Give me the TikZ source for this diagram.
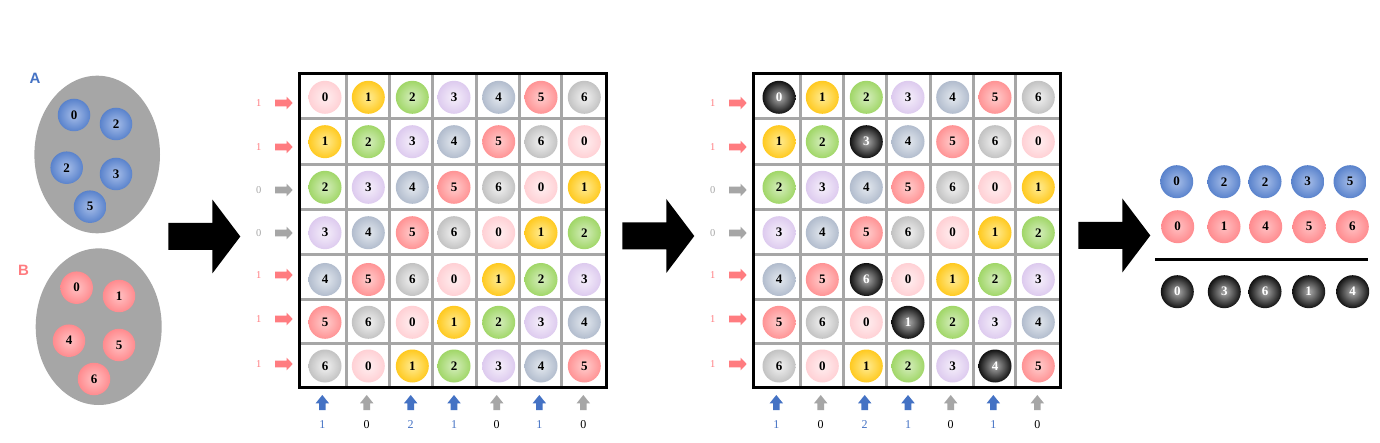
\documentclass[tikz,border=0pt]{standalone}
\usepackage{fontspec}
\setmainfont{Liberation Serif}
\newfontfamily\labfont{Liberation Sans}
\definecolor{c0in}{HTML}{FFEAEC}\definecolor{c0out}{HTML}{FFC8CD}\colorlet{c0txt}{black}
\definecolor{c1in}{HTML}{FFE680}\definecolor{c1out}{HTML}{FFC000}\colorlet{c1txt}{black}
\definecolor{c2in}{HTML}{CDEAB0}\definecolor{c2out}{HTML}{92D050}\colorlet{c2txt}{black}
\definecolor{c3in}{HTML}{F2EAF9}\definecolor{c3out}{HTML}{D6C0EB}\colorlet{c3txt}{black}
\definecolor{c4in}{HTML}{DCE2EA}\definecolor{c4out}{HTML}{A4B0C4}\colorlet{c4txt}{black}
\definecolor{c5in}{HTML}{FFC4C4}\definecolor{c5out}{HTML}{FF8385}\colorlet{c5txt}{black}
\definecolor{c6in}{HTML}{EBEBEB}\definecolor{c6out}{HTML}{B5B5B5}\colorlet{c6txt}{black}
\definecolor{kin}{HTML}{9A9A9A}\definecolor{kout}{HTML}{000000}\colorlet{ktxt}{white}
\definecolor{blin}{HTML}{9AB4E4}\definecolor{blout}{HTML}{4472C4}\colorlet{bltxt}{black}
\definecolor{rdin}{HTML}{FFB8BA}\definecolor{rdout}{HTML}{FF7C80}\colorlet{rdtxt}{black}
\definecolor{arrred}{HTML}{FF7C80}
\definecolor{arrgray}{HTML}{A6A6A6}
\definecolor{arrblue}{HTML}{4472C4}
\definecolor{ellgray}{HTML}{A6A6A6}
\colorlet{rowc1}{arrred}
\colorlet{rowc0}{arrgray}
\colorlet{ballin}{white}\colorlet{ballout}{black}\colorlet{balltxt}{black}
\pgfdeclareradialshading[ballin,ballout]{myball}{\pgfpoint{0bp}{0bp}}{color(0bp)=(ballin); color(4bp)=(ballin); color(32bp)=(ballout); color(50bp)=(ballout)}
\pgfdeclareradialshading{blkball}{\pgfpoint{0bp}{0bp}}{color(0bp)=(kin); color(3bp)=(kin); color(28bp)=(black); color(50bp)=(black)}
\expandafter\def\csname blk00\endcsname{}
\expandafter\def\csname blk12\endcsname{}
\expandafter\def\csname blk42\endcsname{}
\expandafter\def\csname blk53\endcsname{}
\expandafter\def\csname blk65\endcsname{}
\begin{document}
\begin{tikzpicture}[x=1pt,y=-1pt,
  ball/.style={circle, minimum size=33pt, inner sep=0pt,
    /utils/exec={\colorlet{ballin}{#1in}\colorlet{ballout}{#1out}\colorlet{balltxt}{#1txt}},
    shade, shading=myball, text=balltxt, font=\fontsize{13}{13}\selectfont\bfseries},
  blackball/.style={ball=k, shading=blkball},
  gridline/.style={draw=arrgray, line width=3pt},
  border/.style={draw=black, line width=2.6pt},
  rowlab/.style={inner sep=0pt, font=\fontsize{10.5}{10.5}\selectfont},
  collab/.style={inner sep=0pt, font=\fontsize{12}{12}\selectfont},
  setlab/.style={inner sep=0pt, font=\labfont\bfseries\fontsize{15}{15}\selectfont},
  rarr/.pic={\path[pic actions] (0,-3.3) -- (11.5,-3.3) -- (11.5,-6.4) -- (17.7,0) -- (11.5,6.4) -- (11.5,3.3) -- (0,3.3) -- cycle;},
  uarr/.pic={\path[pic actions] (-3.3,15) -- (-3.3,8.3) -- (-6.7,8.3) -- (0,0) -- (6.7,8.3) -- (3.3,8.3) -- (3.3,15) -- cycle;},
  bigarr/.pic={\path[pic actions] (0,-13.5) -- (44,-13.5) -- (44,-37) -- (72,0) -- (44,37) -- (44,13.5) -- (0,13.5) -- cycle;}
]
\useasboundingbox (0,0) rectangle (1380,443);
\fill[white] (0,0) rectangle (1380,443);

% sets A and B
\node[setlab, text=arrblue] (labA) at (35,78.7) {A};
\node[setlab, text=arrred] (labB) at (23.5,270.7) {B};
\fill[ellgray] (97.2,154.5) ellipse [x radius=62.8, y radius=78.8];
\fill[ellgray] (98.7,326.7) ellipse [x radius=63, y radius=78.3];
\foreach \v/\x/\y [count=\i] in {0/74/115,2/116/124,2/66.7/167.7,3/116/174,5/90/206.7}
  \node[ball=bl, minimum size=32.5pt] (a\i) at (\x,\y) {\v};
\foreach \v/\x/\y [count=\i] in {0/76.7/287.7,1/119/296,4/69/340.7,5/119/345,6/94/379}
  \node[ball=rd, minimum size=32.5pt] (b\i) at (\x,\y) {\v};

% big arrows
\pic[fill=black] at (168.3,236.5) {bigarr};
\pic[fill=black] at (622.3,236) {bigarr};
\pic[fill=black] at (1078.3,235.5) {bigarr};

% grids
\foreach \gx in {0,454}{
  \foreach \xx in {346,389,432.3,476,519,561.7}
    \draw[gridline] (\xx+\gx,73.5) -- (\xx+\gx,387.5);
  \foreach \yy in {118.3,164.3,210,255,299.3,343.3}
    \draw[gridline] (299.5+\gx,\yy) -- (606.7+\gx,\yy);
  \draw[border] (299.5+\gx,73.5) rectangle (606.7+\gx,387.5);
}
\foreach \r/\y in {0/97.3,1/141.7,2/187.3,3/232.7,4/279.5,5/322.3,6/366}{
  \foreach \c/\x in {0/325,1/368.3,2/412.3,3/454,4/498.7,5/541,6/584.3}{
    \pgfmathtruncatemacro\v{mod(\r+\c,7)}
    \node[ball=c\v] (ga-\r-\c) at (\x,\y) {\v};
    \ifcsname blk\r\c\endcsname
      \node[blackball] (gb-\r-\c) at (\x+454,\y) {\v};
    \else
      \node[ball=c\v] (gb-\r-\c) at (\x+454,\y) {\v};
    \fi
  }
}

% row indicators
\foreach \r/\y/\s in {0/103/1,1/147/1,2/190/0,3/233/0,4/275/1,5/319/1,6/364/1}{
  \foreach \gx/\g in {0/a,454/b}{
    \node[rowlab, text=rowc\s] (rl\g\r) at (258.7+\gx,\y) {\s};
    \pic[fill=rowc\s] at (275+\gx,\y) {rarr};
  }
}

% column indicators
\foreach \c/\x/\s in {0/322.3/1,1/366.7/0,2/410.7/2,3/454/1,4/496.7/0,5/539.3/1,6/583.3/0}{
  \ifnum\s>0 \def\ac{arrblue}\def\tc{arrblue}\else\def\ac{arrgray}\def\tc{black}\fi
  \foreach \gx/\g in {0/a,454/b}{
    \pic[fill=\ac] at (\x+\gx,395) {uarr};
    \node[collab, text=\tc] (cl\g\c) at (\x+\gx,425) {\s};
  }
}

% result
\foreach \v/\x [count=\i] in {0/1176.7,2/1224,2/1265,3/1307.7,5/1350}
  \node[ball=bl] (ra\i) at (\x,181.7) {\v};
\foreach \v/\x [count=\i] in {0/1177.7,1/1224,4/1265.7,5/1309,6/1352.3}
  \node[ball=rd] (rb\i) at (\x,226.7) {\v};
\coordinate (ls) at (1155,259.3);
\coordinate (le) at (1368.3,259.3);
\draw[line width=3pt] (ls) -- (le);
\foreach \v/\x [count=\i] in {0/1177.3,3/1224.3,6/1265,1/1308.7,4/1352.7}
  \node[blackball] (rk\i) at (\x,291.7) {\v};
\end{tikzpicture}
\end{document}
